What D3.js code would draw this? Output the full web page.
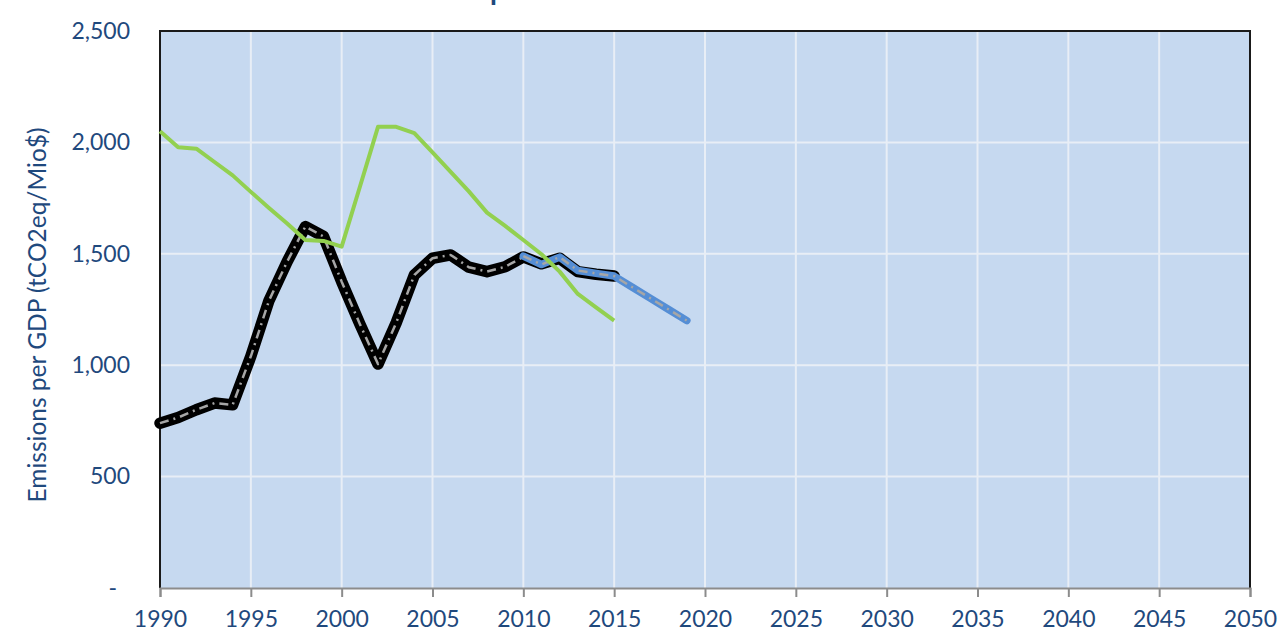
<!DOCTYPE html>
<html><head><meta charset="utf-8">
<script src="https://cdn.jsdelivr.net/npm/d3@7"></script>
<style>body{margin:0;background:#fff;} text{font-family:Lato, "Open Sans", sans-serif;}</style>
</head><body><svg id="c" width="1278" height="634"></svg>
<script>
const titleText = "Emissions per GDP";
const yAxisTitle = "Emissions per GDP (tCO2eq/Mio$)";
const xTicks = [1990,1995,2000,2005,2010,2015,2020,2025,2030,2035,2040,2045,2050];
const yTicks = [0,500,1000,1500,2000,2500];
const yTickLabels = ["-","500","1,000","1,500","2,000","2,500"];

const historicYears = [1990,1991,1992,1993,1994,1995,1996,1997,1998,1999,2000,2001,2002,2003,2004,2005,2006,2007,2008,2009,2010,2011,2012,2013,2014,2015];
const historicValues = [740,765,800,830,822,1040,1290,1465,1622,1578,1375,1185,1005,1190,1405,1480,1495,1440,1420,1442,1486,1455,1480,1420,1408,1400];

const projYears = [2010,2011,2012,2013,2014,2015,2016,2017,2018,2019];
const projValues = [1490,1452,1485,1425,1412,1400,1350,1300,1250,1200];

const greenYears = [1990,1991,1992,1993,1994,1995,1996,1997,1998,1999,2000,2001,2002,2003,2004,2005,2006,2007,2008,2009,2010,2011,2012,2013,2014,2015];
const greenValues = [2050,1978,1972,1912,1852,1778,1706,1636,1562,1558,1532,1800,2070,2070,2042,1955,1868,1780,1685,1625,1562,1498,1420,1320,1260,1200];

const svg = d3.select("#c");
const L=160, R=1250, T=31, B=588;
const x = d3.scaleLinear().domain([1990,2050]).range([L,R]);
const y = d3.scaleLinear().domain([0,2500]).range([B,T]);
const txt = "#1F497D";

// background
svg.append("rect").attr("x",L).attr("y",T).attr("width",R-L).attr("height",B-T).attr("fill","#C6D9F0");

// gridlines
svg.append("g").selectAll("line").data(xTicks.slice(1,-1)).join("line")
  .attr("x1",d=>x(d)).attr("x2",d=>x(d)).attr("y1",T).attr("y2",B)
  .attr("stroke","#E8EEF6").attr("stroke-width",2);
svg.append("g").selectAll("line").data(yTicks.slice(1,-1)).join("line")
  .attr("x1",L).attr("x2",R).attr("y1",d=>y(d)).attr("y2",d=>y(d))
  .attr("stroke","#E8EEF6").attr("stroke-width",2);

// borders
svg.append("line").attr("x1",L-1).attr("x2",R+1).attr("y1",T).attr("y2",T).attr("stroke","#1a1a1a").attr("stroke-width",2);
svg.append("line").attr("x1",L).attr("x2",L).attr("y1",T).attr("y2",B).attr("stroke","#1a1a1a").attr("stroke-width",2);
svg.append("line").attr("x1",R).attr("x2",R).attr("y1",T).attr("y2",B).attr("stroke","#1a1a1a").attr("stroke-width",2);

// x axis
const xa = d3.axisBottom(x).tickValues(xTicks).tickFormat(d3.format("d")).tickSize(9).tickPadding(14);
const gx = svg.append("g").attr("transform",`translate(0,${B})`).call(xa);
gx.select(".domain").attr("stroke","#8C8C8C").attr("stroke-width",2);
gx.selectAll(".tick line").attr("stroke","#8C8C8C").attr("stroke-width",2);
gx.selectAll(".tick text").attr("fill",txt).attr("font-size",23).attr("font-family","Lato");

// y axis labels
const ya = d3.axisLeft(y).tickValues(yTicks).tickFormat((d,i)=>yTickLabels[i]).tickSize(0).tickPadding(30);
const gy = svg.append("g").attr("transform",`translate(${L},0)`).call(ya);
gy.select(".domain").remove();
gy.selectAll(".tick text").attr("fill",txt).attr("font-size",23).attr("font-family","Lato");
gy.selectAll(".tick").filter(d=>d===0).select("text").attr("dx",-13);

// y axis title
svg.append("text").attr("transform","translate(46,315) rotate(-90)").attr("text-anchor","middle")
  .attr("fill",txt).attr("font-size",24.5).text(yAxisTitle);

// title (mostly cut off at top, as in the reference)
const tt = svg.append("text").attr("y",0).attr("fill",txt).attr("font-size",28).attr("font-weight","bold").text(titleText);
const pIdx = titleText.indexOf("p");
const off = tt.node().getSubStringLength(0,pIdx);
tt.attr("x", 490 - off);

const line = d3.line().x(d=>x(d[0])).y(d=>y(d[1]));
const hist = historicYears.map((d,i)=>[d,historicValues[i]]);
const proj = projYears.map((d,i)=>[d,projValues[i]]);
const green = greenYears.map((d,i)=>[d,greenValues[i]]);

function styled(data, color, w){
  svg.append("path").datum(data).attr("d",line).attr("fill","none").attr("stroke",color)
    .attr("stroke-width",w).attr("stroke-linejoin","round").attr("stroke-linecap","round");
  svg.append("path").datum(data).attr("d",line).attr("fill","none").attr("stroke","#A6A6A6")
    .attr("stroke-width",2.5).attr("stroke-dasharray","9,5,2,5").attr("stroke-linejoin","round");
}
styled(hist,"#000",11.5);
styled(proj,"#558ED5",7.5);

svg.append("path").datum(green).attr("d",line).attr("fill","none").attr("stroke","#92D050")
  .attr("stroke-width",4).attr("stroke-linejoin","round");
</script></body></html>
